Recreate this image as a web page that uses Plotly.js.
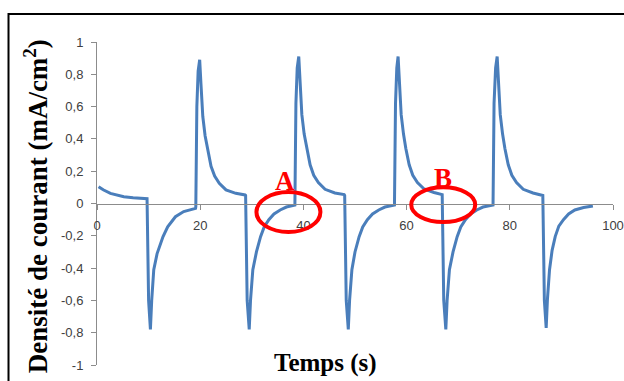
<!DOCTYPE html>
<html>
<head>
<meta charset="utf-8">
<script src="https://cdn.plot.ly/plotly-3.0.1.min.js"></script>
<style>
html,body{margin:0;padding:0;background:#fff;}
#chart{width:624px;height:381px;}
</style>
</head>
<body>
<div id="chart"></div>
<script>
// Time (s) and current density (mA/cm2), segment by segment
const tStart = [0.3, 1.2, 2.6, 3.8, 5.2, 7.0, 9.4];
const jStart = [0.104, 0.085, 0.063, 0.052, 0.042, 0.036, 0.032];

const tCycle1 = [9.7, 10.0, 10.35, 10.6, 11.0, 11.65, 12.8, 13.7, 15.2, 16.8, 19.1,
  19.15, 19.35, 19.6, 19.9, 20.15, 20.5, 20.95, 21.45, 22.1, 22.8, 23.7, 25.0, 26.9, 28.7];
const jCycle1 = [0.03, -0.6, -0.78, -0.6, -0.41, -0.31, -0.205, -0.144, -0.082, -0.05, -0.03,
  -0.02, 0.6, 0.82, 0.89, 0.74, 0.54, 0.42, 0.33, 0.23, 0.17, 0.125, 0.084, 0.063, 0.053];

const tCycle2 = [28.8, 29.1, 29.5, 29.75, 30.2, 30.9, 31.7, 32.4, 33.3, 34.3, 35.5, 36.7, 38.0,
  38.35, 38.55, 38.8, 39.1, 39.35, 39.7, 40.15, 40.65, 41.3, 42.0, 42.9, 44.2, 46.1, 47.9];
const jCycle2 = [0.05, -0.6, -0.78, -0.6, -0.41, -0.30, -0.205, -0.145, -0.10, -0.065, -0.04, -0.022, -0.012,
  -0.01, 0.62, 0.84, 0.91, 0.75, 0.55, 0.43, 0.34, 0.24, 0.175, 0.13, 0.088, 0.065, 0.055];

const tCycle3 = [48.0, 48.3, 48.7, 48.95, 49.4, 50.0, 50.8, 51.5, 52.4, 53.4, 54.6, 55.8, 57.3,
  57.65, 57.85, 58.1, 58.35, 58.6, 58.95, 59.4, 59.85, 60.5, 61.2, 62.1, 63.4, 65.3, 66.8];
const jCycle3 = [0.05, -0.6, -0.78, -0.6, -0.41, -0.30, -0.205, -0.145, -0.10, -0.065, -0.04, -0.022, -0.012,
  -0.01, 0.62, 0.84, 0.91, 0.75, 0.55, 0.43, 0.34, 0.24, 0.175, 0.13, 0.09, 0.068, 0.058];

const tCycle4 = [66.9, 67.2, 67.6, 67.85, 68.3, 69.0, 69.8, 70.5, 71.4, 72.4, 73.6, 74.8, 76.4,
  76.75, 76.95, 77.25, 77.55, 77.8, 78.15, 78.6, 79.05, 79.7, 80.4, 81.3, 82.6, 84.5, 86.3];
const jCycle4 = [0.055, -0.6, -0.78, -0.6, -0.41, -0.30, -0.205, -0.145, -0.10, -0.065, -0.04, -0.022, -0.012,
  -0.01, 0.62, 0.84, 0.91, 0.75, 0.55, 0.43, 0.34, 0.24, 0.175, 0.13, 0.088, 0.065, 0.055];

const tEnd = [86.4, 86.7, 87.05, 87.3, 87.7, 88.2, 88.8, 89.5, 90.4, 91.4, 92.6, 94.3, 96.1];
const jEnd = [0.05, -0.6, -0.77, -0.59, -0.41, -0.29, -0.205, -0.14, -0.10, -0.065, -0.04, -0.025, -0.015];

const xTickVals = [0, 20, 40, 60, 80, 100];
const xTickText = ['0', '20', '40', '60', '80', '100'];
const yTickVals = [-1, -0.8, -0.6, -0.4, -0.2, 0, 0.2, 0.4, 0.6, 0.8, 1];
const yTickText = ['-1', '-0,8', '-0,6', '-0,4', '-0,2', '0', '0,2', '0,4', '0,6', '0,8', '1'];

const time = [].concat(tStart, tCycle1, tCycle2, tCycle3, tCycle4, tEnd);
const current = [].concat(jStart, jCycle1, jCycle2, jCycle3, jCycle4, jEnd);

const axisGray = '#8c8c8c';
const tickFont = {family: 'Liberation Sans, Arial, sans-serif', size: 13, color: '#404040'};
const serif = 'Liberation Serif, Times New Roman, serif';

const data = [
  {x: time, y: current, type: 'scatter', mode: 'lines',
   line: {color: '#4a7ebb', width: 3}, hoverinfo: 'skip', xaxis: 'x', yaxis: 'y'}
];

const layout = {
  width: 624, height: 381,
  margin: {l: 97, r: 11, t: 42, b: 16, pad: 0},
  paper_bgcolor: '#fff', plot_bgcolor: '#fff',
  showlegend: false,
  xaxis: {range: [0, 100], anchor: 'free', position: 0.5, showline: true, linecolor: axisGray, linewidth: 1,
          ticks: 'outside', ticklen: 5, tickcolor: axisGray, tickwidth: 1,
          tickvals: xTickVals, ticktext: xTickText, tickfont: tickFont, ticklabelstandoff: 5,
          showgrid: false, zeroline: false, fixedrange: true},
  yaxis: {range: [-1, 1], showline: true, linecolor: axisGray, linewidth: 1,
          ticks: 'outside', ticklen: 5, tickcolor: axisGray, tickwidth: 1,
          tickvals: yTickVals, ticktext: yTickText, tickfont: tickFont, ticklabelstandoff: 5,
          showgrid: false, zeroline: false, fixedrange: true},
  xaxis2: {range: [0, 100], overlaying: 'x', anchor: 'free', position: 0.5, showline: false,
           ticks: 'inside', ticklen: 5, tickcolor: axisGray, tickwidth: 1,
           tickvals: xTickVals, showticklabels: false, showgrid: false, zeroline: false},
  yaxis2: {range: [-1, 1], overlaying: 'y', anchor: 'x2', showline: false,
           ticks: 'inside', ticklen: 5, tickcolor: axisGray, tickwidth: 1,
           tickvals: yTickVals, showticklabels: false, showgrid: false, zeroline: false},
  shapes: [
    {type: 'rect', xref: 'paper', yref: 'paper', x0: -0.1715, x1: 1.2, y0: -0.3, y1: 1.0867,
     line: {color: '#000', width: 2}, fillcolor: 'rgba(0,0,0,0)', layer: 'above'},
    {type: 'circle', xref: 'x', yref: 'y', x0: 30.9, x1: 43.3, y0: -0.176, y1: 0.071,
     line: {color: '#ff0000', width: 4}},
    {type: 'circle', xref: 'x', yref: 'y', x0: 60.9, x1: 73.3, y0: -0.115, y1: 0.1,
     line: {color: '#ff0000', width: 4}}
  ],
  annotations: [
    {text: 'Densité de courant (mA/cm<sup>2</sup>)', xref: 'paper', yref: 'paper',
     x: -0.119, y: 0.49, xanchor: 'center', yanchor: 'middle', textangle: -90, showarrow: false,
     font: {family: serif, size: 27, color: '#000', weight: 'bold'}},
    {text: 'Temps (s)', xref: 'paper', yref: 'paper', x: 0.442, y: 0.006,
     xanchor: 'center', yanchor: 'middle', showarrow: false,
     font: {family: serif, size: 25, color: '#000', weight: 'bold'}},
    {text: 'A', xref: 'x', yref: 'y', x: 36.5, y: 0.138, showarrow: false,
     font: {family: serif, size: 27, color: '#ff0000', weight: 'bold'}},
    {text: 'B', xref: 'x', yref: 'y', x: 67.1, y: 0.158, showarrow: false,
     font: {family: serif, size: 27, color: '#ff0000', weight: 'bold'}}
  ]
};

Plotly.newPlot('chart', data, layout, {displayModeBar: false, staticPlot: true});
</script>
</body>
</html>
